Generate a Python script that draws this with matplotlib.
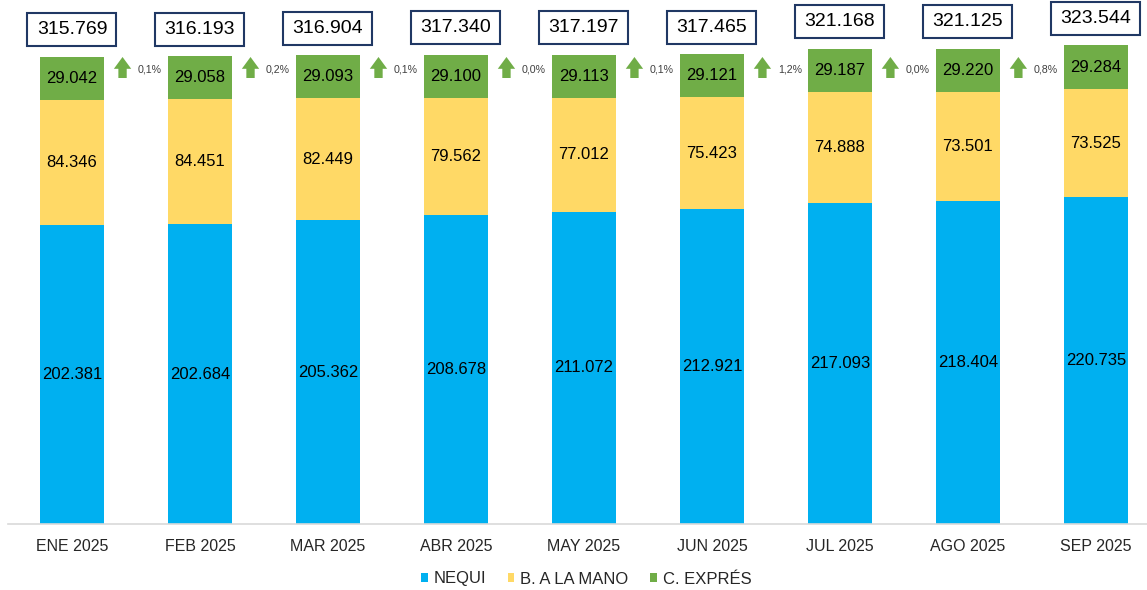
import matplotlib
matplotlib.use("Agg")
import matplotlib.pyplot as plt
from matplotlib.patches import Rectangle
import numpy as np

months = ["ENE 2025", "FEB 2025", "MAR 2025", "ABR 2025", "MAY 2025",
          "JUN 2025", "JUL 2025", "AGO 2025", "SEP 2025"]
nequi = [202381, 202684, 205362, 208678, 211072, 212921, 217093, 218404, 220735]
bmano = [84346, 84451, 82449, 79562, 77012, 75423, 74888, 73501, 73525]
cexpres = [29042, 29058, 29093, 29100, 29113, 29121, 29187, 29220, 29284]
totals = [315769, 316193, 316904, 317340, 317197, 317465, 321168, 321125, 323544]
growth = ["0,1%", "0,2%", "0,1%", "0,0%", "0,1%", "1,2%", "0,0%", "0,8%"]

c_nequi = "#00B0F0"
c_mano = "#FFD966"
c_expres = "#70AD47"

plt.rcParams['font.family'] = ['Liberation Sans', 'DejaVu Sans']

def fmt(v):
    return f"{v:,}".replace(",", ".")

W, H = 1147, 590
fig = plt.figure(figsize=(W / 100, H / 100), dpi=100)
ax_left, ax_bottom, ax_w, ax_h = 8, 66, 1139, 524
ax = fig.add_axes([ax_left / W, ax_bottom / H, ax_w / W, ax_h / H])

xmin, xmax = -0.5, 8.4
ymax = 354200
px_x = ax_w / (xmax - xmin)      # pixels per x unit
px_y = ax_h / ymax               # pixels per y unit

x = np.arange(len(months))
w = 0.5
n = np.array(nequi); m = np.array(bmano); c = np.array(cexpres)
ax.bar(x, n, w, color=c_nequi, label="NEQUI")
ax.bar(x, m, w, bottom=n, color=c_mano, label="B. A LA MANO")
ax.bar(x, c, w, bottom=n + m, color=c_expres, label="C. EXPRÉS")

box_w, box_h, box_off = 89, 33, 27   # pixels
for i in range(len(months)):
    ax.text(x[i], n[i] / 2, fmt(nequi[i]), ha='center', va='center', fontsize=12, color='black')
    ax.text(x[i], n[i] + m[i] / 2, fmt(bmano[i]), ha='center', va='center', fontsize=12, color='black')
    ax.text(x[i], n[i] + m[i] + c[i] / 2, fmt(cexpres[i]), ha='center', va='center', fontsize=12, color='black')
    top = n[i] + m[i] + c[i]
    cy = top + box_off / px_y
    ax.add_patch(Rectangle((x[i] - box_w / 2 / px_x, cy - box_h / 2 / px_y),
                           box_w / px_x, box_h / px_y, fc='white', ec='#203864', lw=1.5,
                           clip_on=False, zorder=3))
    ax.text(x[i], cy, fmt(totals[i]), ha='center', va='center', fontsize=14,
            color='black', zorder=4)

for i, g in enumerate(growth):
    ax.annotate('', xy=(x[i] + 0.395, (ax_h - 57) / px_y), xytext=(x[i] + 0.395, (ax_h - 78) / px_y),
                arrowprops=dict(arrowstyle='simple,head_length=0.85,head_width=1.25,tail_width=0.6',
                                mutation_scale=10, fc=c_expres, ec='none', shrinkA=0, shrinkB=0))
    ax.text(x[i] + 0.61, (ax_h - 69) / px_y, g, ha='center', va='center', fontsize=7.7, color='#404040')

ax.set_xlim(xmin, xmax)
ax.set_ylim(0, ymax)
ax.set_xticks(x)
ax.set_xticklabels(months, fontsize=11.5, color='#262626')
ax.tick_params(axis='x', length=0, pad=11)
ax.set_yticks([])
for s in ['top', 'right', 'left']:
    ax.spines[s].set_visible(False)
ax.spines['bottom'].set_color('#D9D9D9')
ax.spines['bottom'].set_linewidth(1.2)

leg = fig.legend(loc='center', ncol=3, frameon=False,
                 fontsize=12, handlelength=0.4, handleheight=0.4, handletextpad=0.35,
                 columnspacing=1.3, labelcolor='#262626')
leg.set_bbox_to_anchor((586 / W, 11 / H), transform=fig.transFigure)

fig.savefig("out.png", dpi=100)
